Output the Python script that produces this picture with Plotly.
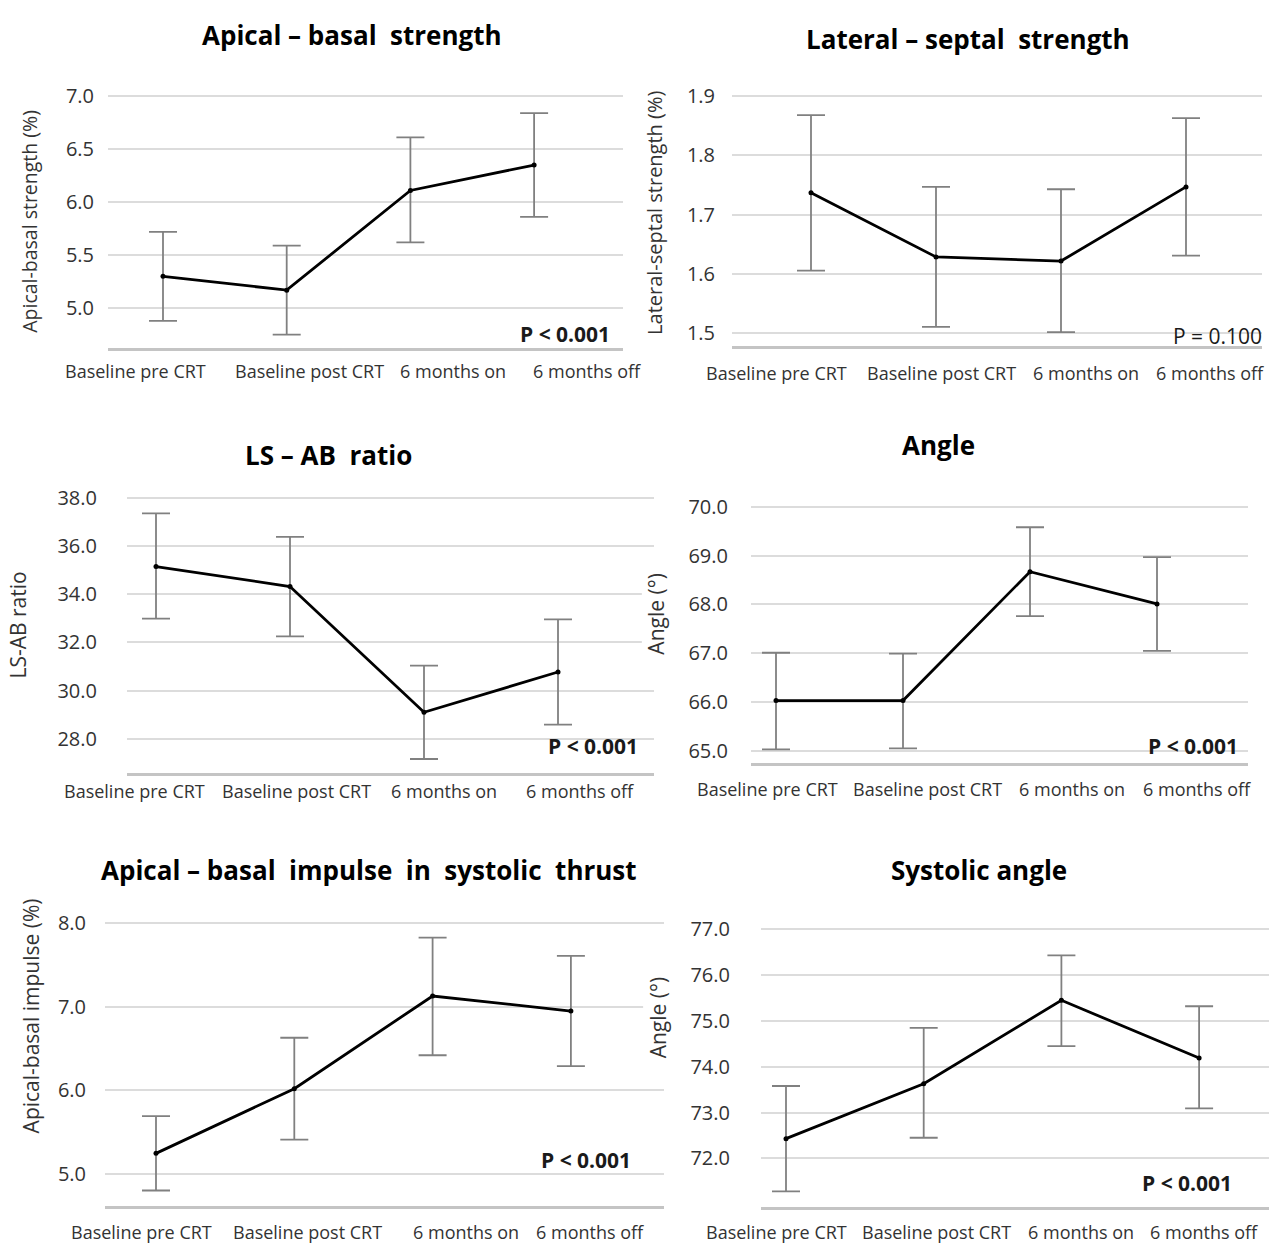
import plotly.graph_objects as go

# ---------------- data ----------------
categories = ["Baseline pre CRT", "Baseline post CRT", "6 months on", "6 months off"]

ab_strength_mean = [5.30, 5.17, 6.11, 6.35]
ab_strength_low = [4.88, 4.75, 5.62, 5.86]
ab_strength_high = [5.72, 5.59, 6.61, 6.84]
ab_strength_ticks = [5.0, 5.5, 6.0, 6.5, 7.0]

ls_strength_mean = [1.737, 1.629, 1.622, 1.747]
ls_strength_low = [1.606, 1.511, 1.502, 1.631]
ls_strength_high = [1.868, 1.747, 1.743, 1.863]
ls_strength_ticks = [1.5, 1.6, 1.7, 1.8, 1.9]

lsab_ratio_mean = [35.15, 34.32, 29.10, 30.77]
lsab_ratio_low = [32.99, 32.25, 27.16, 28.59]
lsab_ratio_high = [37.36, 36.38, 31.04, 32.96]
lsab_ratio_ticks = [28.0, 30.0, 32.0, 34.0, 36.0, 38.0]

angle_mean = [66.03, 66.03, 68.67, 68.01]
angle_low = [65.03, 65.05, 67.76, 67.05]
angle_high = [67.01, 66.99, 69.58, 68.97]
angle_ticks = [65.0, 66.0, 67.0, 68.0, 69.0, 70.0]

impulse_mean = [5.245, 6.02, 7.13, 6.95]
impulse_low = [4.80, 5.41, 6.42, 6.29]
impulse_high = [5.69, 6.63, 7.83, 7.61]
impulse_ticks = [5.0, 6.0, 7.0, 8.0]

sys_angle_mean = [72.43, 73.63, 75.45, 74.19]
sys_angle_low = [71.28, 72.45, 74.45, 73.09]
sys_angle_high = [73.58, 74.85, 76.43, 75.32]
sys_angle_ticks = [72.0, 73.0, 74.0, 75.0, 76.0, 77.0]

titles = ["Apical \u2013 basal  strength", "Lateral \u2013 septal  strength", "LS \u2013 AB  ratio",
          "Angle", "Apical \u2013 basal  impulse  in  systolic  thrust", "Systolic angle"]
y_titles = ["Apical-basal strength (%)", "Lateral-septal strength (%)", "LS-AB ratio",
            "Angle (\u00b0)", "Apical-basal impulse (%)", "Angle (\u00b0)"]
p_values = ["P < 0.001", "P = 0.100", "P < 0.001", "P < 0.001", "P < 0.001", "P < 0.001"]

series = [
    (ab_strength_mean, ab_strength_low, ab_strength_high, ab_strength_ticks),
    (ls_strength_mean, ls_strength_low, ls_strength_high, ls_strength_ticks),
    (lsab_ratio_mean, lsab_ratio_low, lsab_ratio_high, lsab_ratio_ticks),
    (angle_mean, angle_low, angle_high, angle_ticks),
    (impulse_mean, impulse_low, impulse_high, impulse_ticks),
    (sys_angle_mean, sys_angle_low, sys_angle_high, sys_angle_ticks),
]

# ---------------- layout (pixel geometry, styling only) ----------------
W, H = 1269, 1243
FONT = "'Open Sans', Lato, sans-serif"

geom = [
    dict(x0=163, dx=123.7, left=108, right=623, top=85, bottom=340, ytop=7.0, ybot=4.62, ysoff=13,
         lab_dy=23, lab_dx=[-28, 23, 43, 53], ysize=19.5,
         title=(352, 23), ytitle=(30, 212), p=(612, 325, True)),
    dict(x0=811, dx=125.0, left=732, right=1262, top=85, bottom=338, ytop=1.9, ybot=1.478, ysoff=16,
         lab_dy=27, lab_dx=[-35, 5, 25, 24], ysize=20,
         title=(968, 27), ytitle=(655, 203), p=(1264, 327, False)),
    dict(x0=156, dx=134.0, left=127, right=654, top=491, bottom=769, ytop=38.0, ybot=26.58, ysoff=29,
         lab_dy=18, lab_dx=[-22, 6, 20, 22], ysize=21,
         title=(328, 448), ytitle=(18, 620), p=(640, 742, True)),
    dict(x0=776, dx=127.0, left=751, right=1248, top=500, bottom=759, ytop=70.0, ybot=64.75, ysoff=22,
         lab_dy=26, lab_dx=[-9, 24, 42, 40], ysize=21,
         title=(938, 438), ytitle=(656, 608), p=(1240, 742, True)),
    dict(x0=156, dx=138.3, left=105, right=664, top=921, bottom=1207, ytop=8.0, ybot=4.61, ysoff=18,
         lab_dy=26, lab_dx=[-15, 13, 33, 19], ysize=21,
         title=(369, 867), ytitle=(31, 1015), p=(633, 1160, True)),
    dict(x0=786, dx=137.7, left=761, right=1269, top=927, bottom=1208, ytop=77.0, ybot=70.93, ysoff=30,
         lab_dy=25, lab_dx=[-10, 13, 20, 5], ysize=21,
         title=(979, 867), ytitle=(658, 1016), p=(1234, 1183, True)),
]

fig = go.Figure()
layout = dict(
    width=W, height=H,
    margin=dict(l=0, r=0, t=0, b=0),
    paper_bgcolor="white", plot_bgcolor="rgba(0,0,0,0)",
    showlegend=False,
    font=dict(family=FONT, color="#404040"),
)
annotations = []

for i, ((mean, low, high, ticks), g) in enumerate(zip(series, geom), start=1):
    xa = "x" if i == 1 else f"x{i}"
    ya = "y" if i == 1 else f"y{i}"
    fig.add_trace(go.Scatter(
        x=categories, y=mean, xaxis=xa, yaxis=ya,
        mode="lines+markers",
        line=dict(color="black", width=2.8),
        marker=dict(color="black", size=5),
        error_y=dict(type="data", symmetric=False,
                     array=[h - m for h, m in zip(high, mean)],
                     arrayminus=[m - l for m, l in zip(mean, low)],
                     color="#808080", thickness=1.8, width=14),
        cliponaxis=False,
    ))
    ext = 2
    per_px = (g["ytop"] - g["ybot"]) / (g["bottom"] - g["top"])
    ytop_r = g["ytop"] + ext * per_px
    layout["xaxis" if i == 1 else f"xaxis{i}"] = dict(
        domain=[g["left"] / W, g["right"] / W],
        anchor=ya, type="category", categoryorder="array", categoryarray=categories,
        range=[(g["left"] - g["x0"]) / g["dx"], (g["right"] - g["x0"]) / g["dx"]],
        showgrid=False, zeroline=False,
        showline=True, linecolor="#c4c4c4", linewidth=2.5,
        ticks="", showticklabels=False,
        fixedrange=True,
    )
    layout["yaxis" if i == 1 else f"yaxis{i}"] = dict(
        domain=[1 - g["bottom"] / H, 1 - (g["top"] - ext) / H],
        anchor=xa, range=[g["ybot"], ytop_r],
        tickvals=ticks, ticktext=[f"{t:.1f}" for t in ticks],
        showgrid=True, gridcolor="#dcdcdc", gridwidth=2,
        zeroline=False, showline=False, ticks="",
        ticklabelstandoff=g["ysoff"],
        tickfont=dict(family=FONT, size=20, color="#333333"),
        fixedrange=True,
    )
    # category labels under the axis (anchored to the category positions)
    for cat, dx in zip(categories, g["lab_dx"]):
        annotations.append(dict(
            text=cat, xref=xa, yref=f"{ya} domain", x=cat, y=0,
            xanchor="center", yanchor="middle", xshift=dx, yshift=-g["lab_dy"],
            showarrow=False, font=dict(family=FONT, size=18, color="#333333"),
        ))
    tx, ty = g["title"]
    annotations.append(dict(
        text=f"<b>{titles[i-1]}</b>", xref="paper", yref="paper",
        x=tx / W, y=1 - ty / H, xanchor="center", yanchor="middle",
        showarrow=False, font=dict(family=FONT, size=26, color="black"),
    ))
    yx, yy = g["ytitle"]
    annotations.append(dict(
        text=y_titles[i-1], xref="paper", yref="paper",
        x=yx / W, y=1 - yy / H, xanchor="center", yanchor="middle",
        textangle=-90, showarrow=False, bgcolor="white", borderpad=0,
        font=dict(family=FONT, size=g["ysize"], color="#333333"),
    ))
    px_, py_, bold = g["p"]
    ptxt = f"<b>{p_values[i-1]}</b>" if bold else p_values[i-1]
    annotations.append(dict(
        text=ptxt, xref="paper", yref="paper",
        x=px_ / W, y=1 - py_ / H, xanchor="right", yanchor="middle",
        showarrow=False, font=dict(family=FONT, size=21, color="#1a1a1a"),
    ))

layout["annotations"] = annotations
fig.update_layout(**layout)
fig.write_html("out.html")
